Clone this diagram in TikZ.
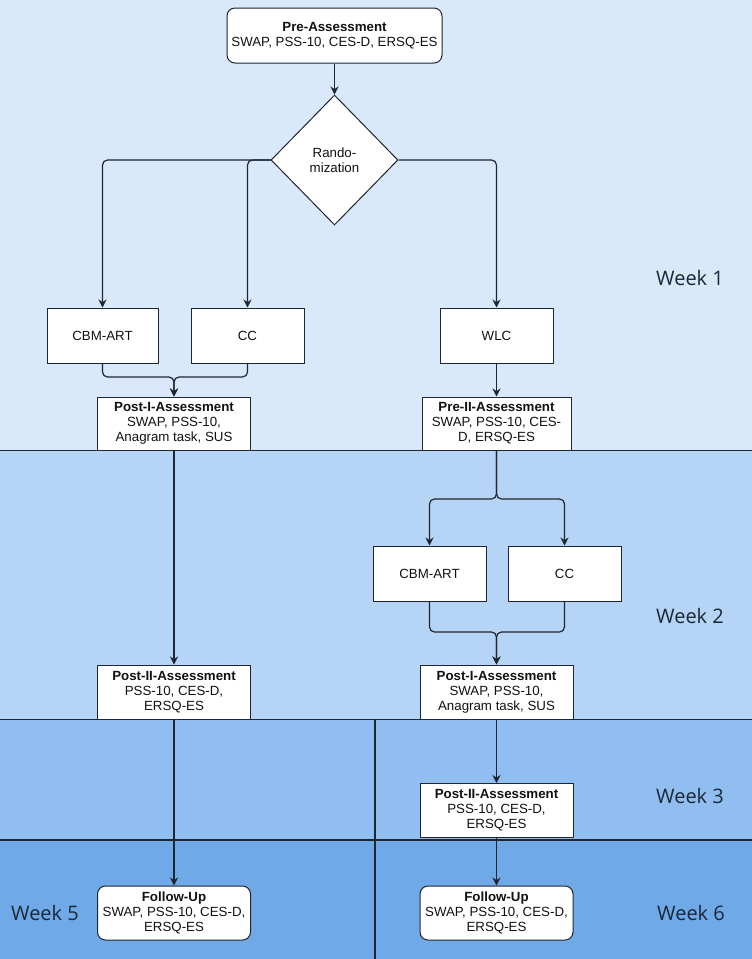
\documentclass[tikz,border=0pt]{standalone}
\usepackage{fontspec}
\setmainfont{Liberation Sans}
\newfontfamily\weekfont{Open Sans}
\usetikzlibrary{shapes.geometric,arrows.meta}
\definecolor{bandA}{HTML}{DAE8FC}
\definecolor{bandB}{HTML}{B6D4F6}
\definecolor{bandC}{HTML}{91BEF0}
\definecolor{bandD}{HTML}{6FA9E8}
\definecolor{lineC}{HTML}{1E2630}
\definecolor{txtC}{HTML}{111111}
\definecolor{weekC}{HTML}{1A2836}
\begin{document}
\begin{tikzpicture}[x=1pt,y=-1pt,
  stepbox/.style={draw=lineC,fill=white,line width=1pt,inner sep=0pt,align=center,
    font=\fontsize{13.3}{15}\selectfont,text=txtC},
  widebox/.style={stepbox,minimum width=153pt,minimum height=54pt},
  smallbox/.style={stepbox,minimum width=113pt,minimum height=55pt},
  roundbox/.style={widebox,rounded corners=8pt},
  conn/.style={draw=lineC,line width=1.2pt,rounded corners=5pt},
  arr/.style={conn,-{Stealth[length=8pt,width=8pt]}},
  bandline/.style={draw=lineC,line width=1.6pt},
  week/.style={font=\weekfont\fontsize{20}{24}\selectfont,text=weekC}]
\useasboundingbox (0,0) rectangle (752,959);
% bands
\fill[bandA] (0,0) rectangle (752,450.5);
\fill[bandB] (0,450.5) rectangle (752,719.5);
\fill[bandC] (0,719.5) rectangle (752,840);
\fill[bandD] (0,840) rectangle (752,959);
\draw[bandline] (0,450.5) -- (752,450.5);
\draw[bandline] (0,719.5) -- (752,719.5);
\draw[bandline] (0,840) -- (752,840);
\draw[draw=lineC,line width=1.2pt] (375,719.5) -- (375,959);
% week labels
\node[week] (w1) at (690,278) {Week 1};
\node[week] (w2) at (690,616) {Week 2};
\node[week] (w3) at (690,796) {Week 3};
\node[week] (w6) at (691,913) {Week 6};
\node[week] (w5) at (45,913) {Week 5};
% nodes
\node[stepbox,rounded corners=8pt,minimum width=215pt,minimum height=55pt] (pre) at (334.5,35.5)
  {\textbf{Pre-Assessment}\\SWAP, PSS-10, CES-D, ERSQ-ES};
\node[stepbox,diamond,aspect=0.98,minimum width=127pt,minimum height=130pt] (dia) at (334.5,160)
  {Rando-\\mization};
\node[smallbox,minimum width=111pt] (cbma) at (102.5,335.5) {CBM-ART};
\node[smallbox] (cca) at (247.5,335.5) {CC};
\node[smallbox] (wlc) at (496.5,335.5) {WLC};
\node[widebox,minimum height=53pt] (postaL) at (174,423.5)
  {\textbf{Post-I-Assessment}\\SWAP, PSS-10,\\Anagram task, SUS};
\node[widebox,minimum height=53pt,minimum width=149pt] (preb) at (496.5,423.5)
  {\textbf{Pre-II-Assessment}\\SWAP, PSS-10, CES-\\D, ERSQ-ES};
\node[smallbox] (cbmb) at (429.5,573.5) {CBM-ART};
\node[smallbox] (ccb) at (564.5,573.5) {CC};
\node[widebox] (postaR) at (496.5,692) 
  {\textbf{Post-I-Assessment}\\SWAP, PSS-10,\\Anagram task, SUS};
\node[widebox] (postbL) at (174,692)
  {\textbf{Post-II-Assessment}\\PSS-10, CES-D,\\ERSQ-ES};
\node[widebox] (postbR) at (496.5,810.5)
  {\textbf{Post-II-Assessment}\\PSS-10, CES-D,\\ERSQ-ES};
\node[roundbox] (fuL) at (174,913)
  {\textbf{Follow-Up}\\SWAP, PSS-10, CES-D,\\ERSQ-ES};
\node[roundbox] (fuR) at (496.5,913)
  {\textbf{Follow-Up}\\SWAP, PSS-10, CES-D,\\ERSQ-ES};
% merge / split points
\coordinate (ma) at (174,377);
\coordinate (sb) at (496.5,499);
\coordinate (mb) at (496.5,632);
% connectors
\draw[arr] (pre) -- (dia);
\draw[arr] (dia.west) -| (cbma.north);
\draw[arr] (dia.west) -| (cca.north);
\draw[arr] (dia.east) -| (wlc.north);
\draw[arr] (cbma.south) |- (ma) -- (postaL.north);
\draw[arr] (cca.south) |- (ma) -- (postaL.north);
\draw[arr] (wlc) -- (preb);
\draw[arr] (postaL) -- (postbL);
\draw[arr] (preb.south) -- (sb) -| (cbmb.north);
\draw[arr] (preb.south) -- (sb) -| (ccb.north);
\draw[arr] (cbmb.south) |- (mb) -- (postaR.north);
\draw[arr] (ccb.south) |- (mb) -- (postaR.north);
\draw[arr] (postaR) -- (postbR);
\draw[arr] (postbL) -- (fuL);
\draw[arr] (postbR) -- (fuR);
\end{tikzpicture}
\end{document}
